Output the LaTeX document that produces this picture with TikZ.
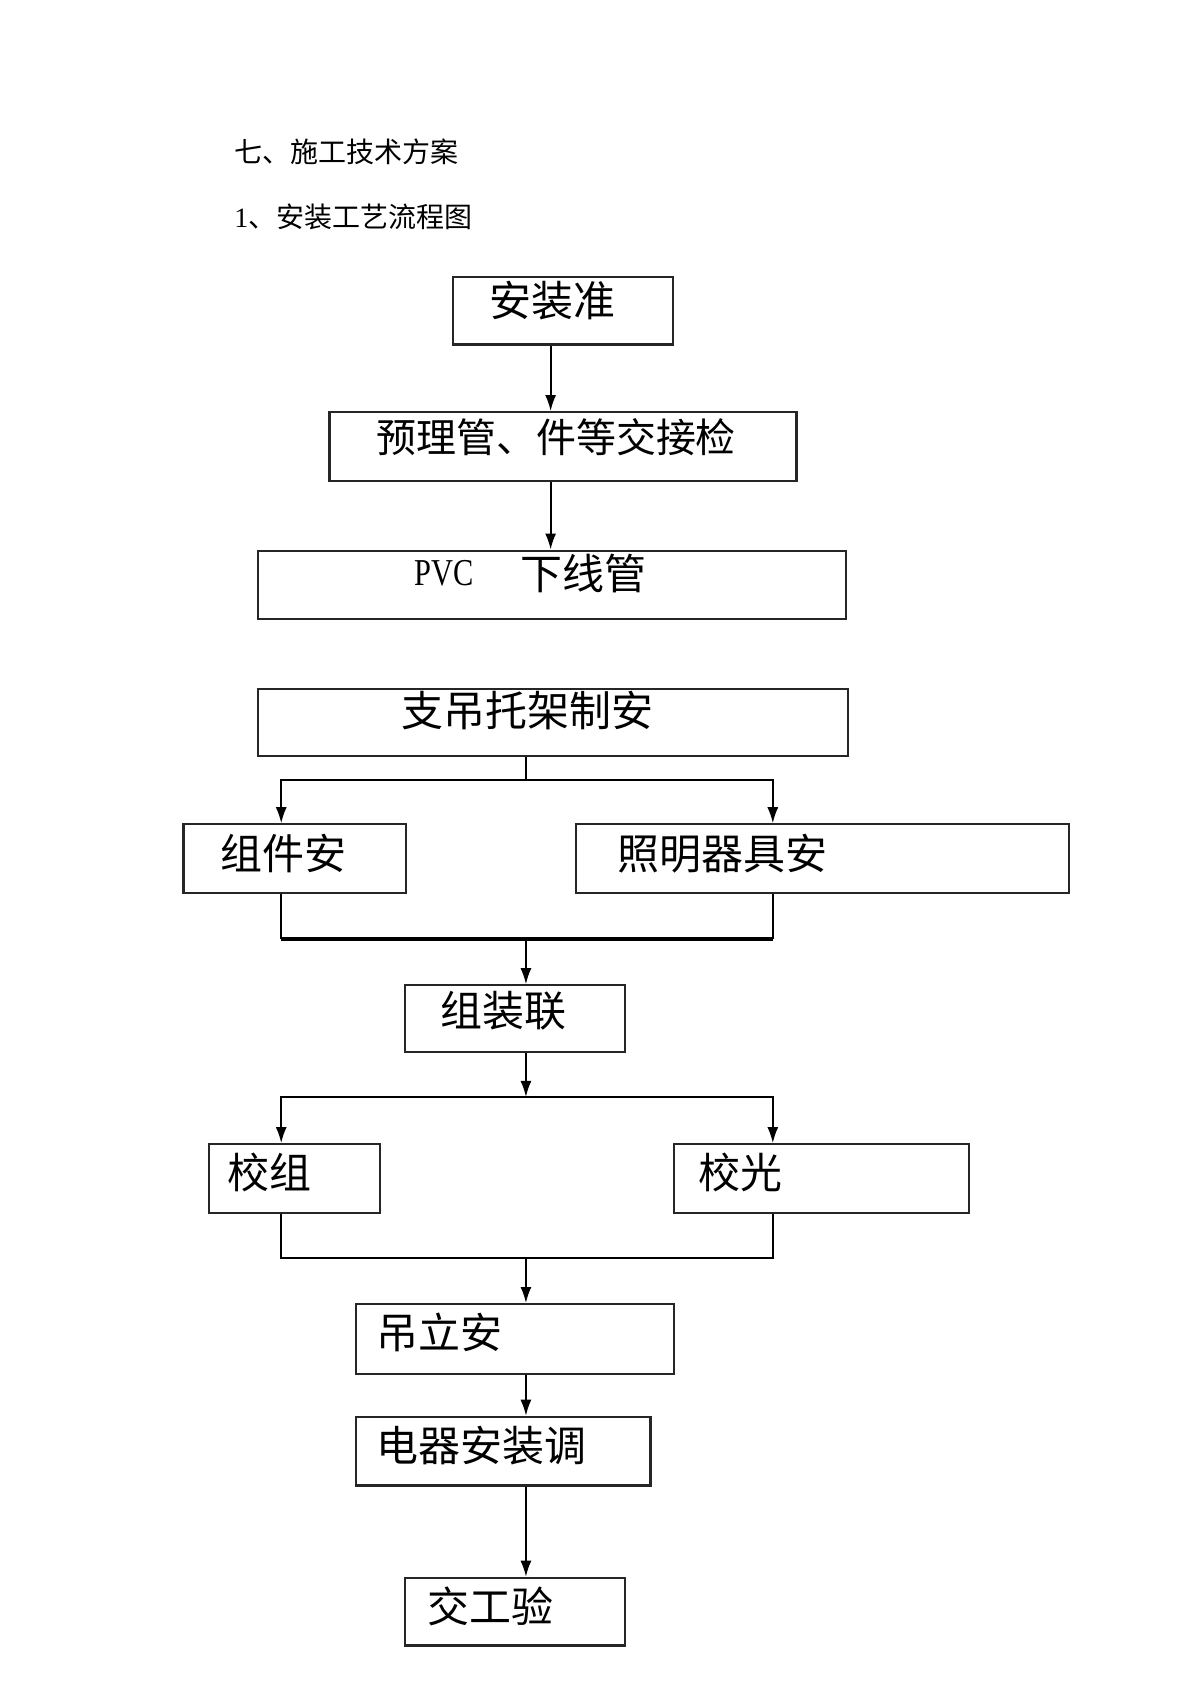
\documentclass[tikz,border=0pt]{standalone}
\usepackage{fontspec}
\setmainfont{Liberation Serif}
\newfontfamily\cjk{Noto Sans CJK SC}
\usetikzlibrary{arrows.meta,fit}

\tikzset{
  box/.style={draw=black!85, line width=1.1pt, inner sep=0pt},
  lbl/.style={font=\cjk\fontsize{21}{25}\selectfont, inner sep=0pt, anchor=west},
  hdr/.style={font=\cjk\fontsize{14}{17}\selectfont, inner sep=0pt, anchor=west},
  arr/.style={-{Latex[length=8pt,width=5.5pt]}, line width=0.9pt},
  bus/.style={line width=0.9pt}
}

\begin{document}
\begin{tikzpicture}[x=0.5368pt,y=-0.5368pt]
    \useasboundingbox (0,0) rectangle (1109,1568);

    % heading
    \node[hdr] (h1) at (218,141) {七、施工技术方案};
    \node[hdr] (h2) at (218,202) {{\rmfamily 1}、安装工艺流程图};

    % columns for the connectors
    \coordinate (ct) at (513,0);
    \coordinate (cm) at (490,0);
    \coordinate (cl) at (262,0);
    \coordinate (cr) at (720,0);

    % boxes
    \node[box, fit={(422,258) (627,321)}] (b1) {};
    \node[box, fit={(307,384) (742,448)}] (b2) {};
    \node[box, fit={(240,513) (788,577)}] (b3) {};
    \node[box, fit={(240,642) (790,704)}] (b4) {};
    \node[box, fit={(171,768) (378,832)}] (b5) {};
    \node[box, fit={(537,768) (996,832)}] (b6) {};
    \node[box, fit={(377,918) (582,980)}] (b7) {};
    \node[box, fit={(195,1066) (354,1130)}] (b8) {};
    \node[box, fit={(628,1066) (903,1130)}] (b9) {};
    \node[box, fit={(332,1215) (628,1280)}] (b10) {};
    \node[box, fit={(332,1320) (606,1384)}] (b11) {};
    \node[box, fit={(377,1470) (582,1533)}] (b12) {};

    % texts
    \node[lbl] (t1) at (456,280) {安装准};
    \node[lbl, font=\cjk\fontsize{20}{24}\selectfont] (t2) at (350,407) {预理管、件等交接检};
    \node[lbl, font=\rmfamily\addfontfeature{FakeStretch=0.8}\fontsize{19}{23}\selectfont] (t3a) at (386,534) {PVC};
    \node[lbl] (t3b) at (485,534) {下线管};
    \node[lbl] (t4) at (374,662) {支吊托架制安};
    \node[lbl] (t5) at (205,795) {组件安};
    \node[lbl] (t6) at (575,795) {照明器具安};
    \node[lbl] (t7) at (410,942) {组装联};
    \node[lbl] (t8) at (212,1092) {校组};
    \node[lbl] (t9) at (650,1092) {校光};
    \node[lbl] (t10) at (350,1241) {吊立安};
    \node[lbl] (t11) at (350,1347) {电器安装调};
    \node[lbl] (t12) at (398,1497) {交工验};

    % junctions
    \coordinate (j1) at (490,727);
    \coordinate (j2) at (490,875);
    \coordinate (j3) at (490,1022);
    \coordinate (j4) at (490,1172);

    \draw[arr] (b1.south -| ct) -- (b2.north -| ct);
    \draw[arr] (b2.south -| ct) -- (b3.north -| ct);

    \draw[bus] (b4.south -| cm) -- (j1);
    \draw[arr] (j1) -| (b5.north -| cl);
    \draw[arr] (j1) -| (b6.north -| cr);

    \draw[bus] (b5.south -| cl) -- (cl |- j2);
    \draw[bus] (b6.south -| cr) -- (cr |- j2);
    \draw[line width=2pt] (cl |- j2) -- (cr |- j2);
    \draw[arr] (j2) -- (b7.north -| cm);

    \draw[arr] (b7.south -| cm) -- (j3);
    \draw[arr] (j3) -| (b8.north -| cl);
    \draw[arr] (j3) -| (b9.north -| cr);

    \draw[bus] (b8.south -| cl) |- (j4);
    \draw[bus] (b9.south -| cr) |- (j4);
    \draw[arr] (j4) -- (b10.north -| cm);

    \draw[arr] (b10.south -| cm) -- (b11.north -| cm);
    \draw[arr] (b11.south -| cm) -- (b12.north -| cm);
\end{tikzpicture}
\end{document}
